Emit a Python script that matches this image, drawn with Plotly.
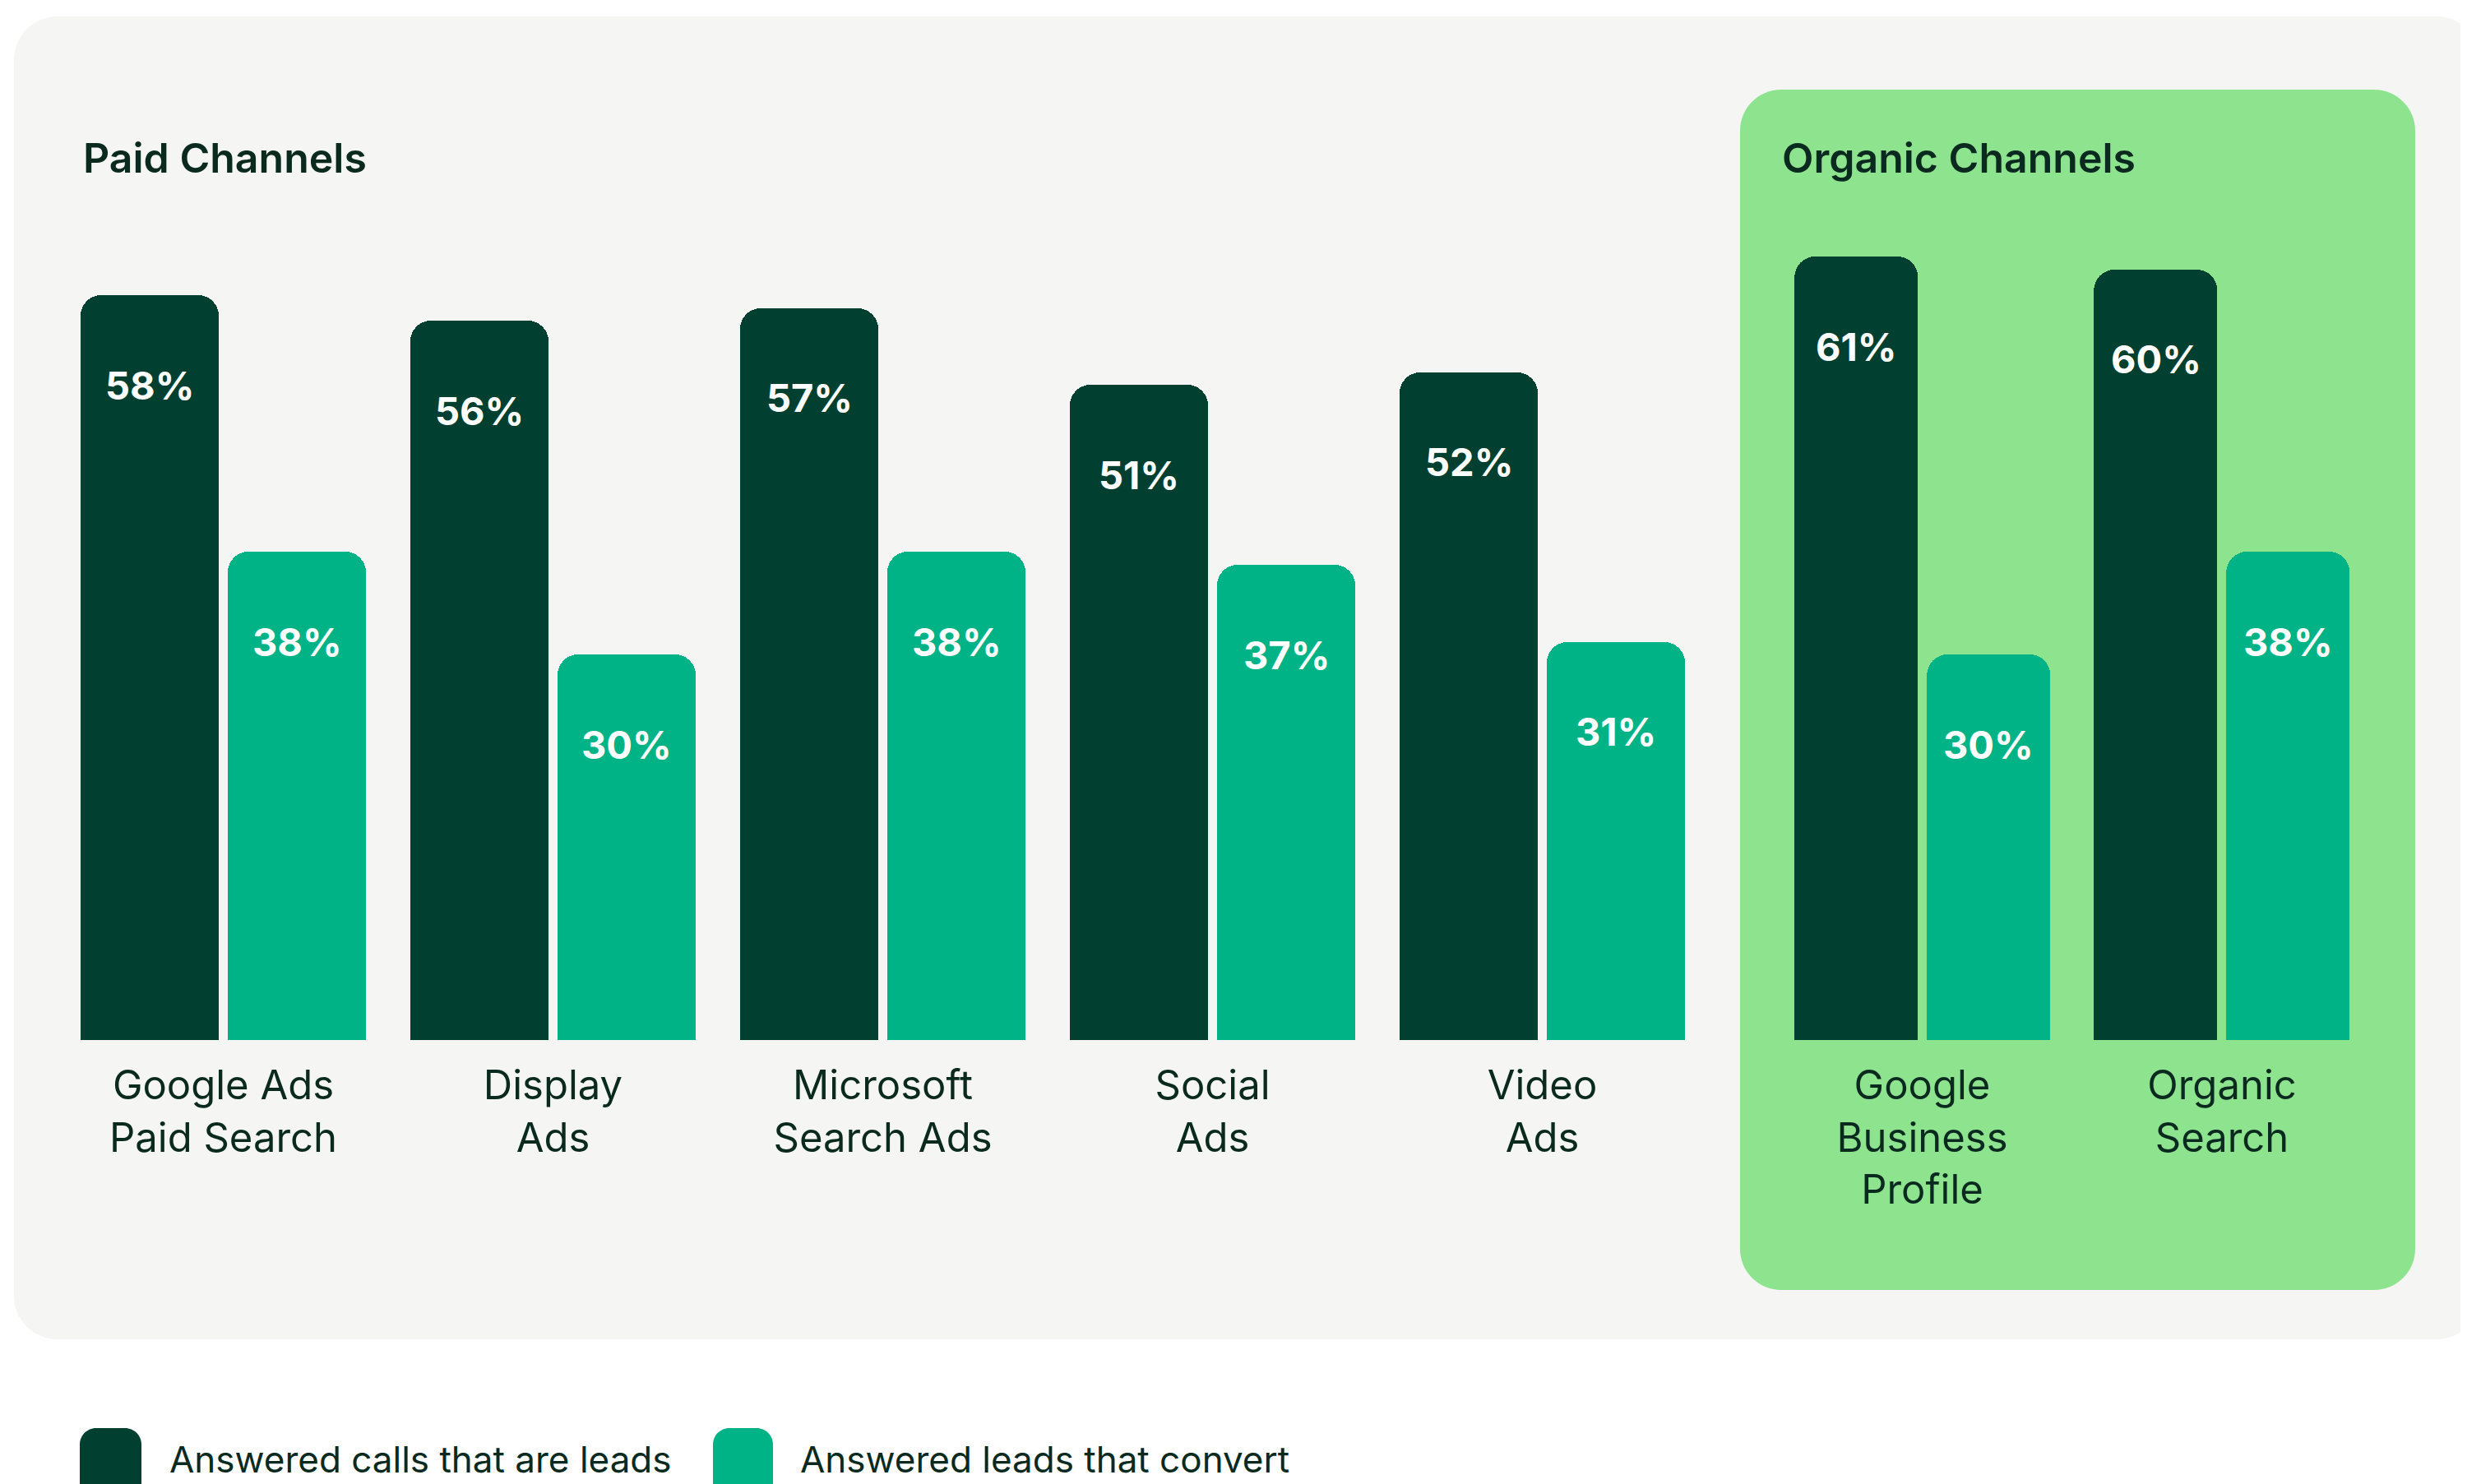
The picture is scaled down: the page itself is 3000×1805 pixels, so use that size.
import plotly.graph_objects as go

W, H = 3000, 1805
PAGE_OFFSET = 8  # default body margin of the html page

# ---------------- data ----------------
paid_categories = ["Google Ads<br>Paid Search", "Display<br>Ads", "Microsoft<br>Search Ads",
                   "Social<br>Ads", "Video<br>Ads"]
paid_leads = [58, 56, 57, 51, 52]
paid_convert = [38, 30, 38, 37, 31]

organic_categories = ["Google<br>Business<br>Profile", "Organic<br>Search"]
organic_leads = [61, 60]
organic_convert = [30, 38]

series_names = ["Answered calls that are leads", "Answered leads that convert"]
group_titles = ["Paid Channels", "Organic Channels"]

# ---------------- style ----------------
DARK = "#013F30"
TEAL = "#00B386"
PANEL = "#F5F5F3"
GREEN = "#8EE38E"
TEXT = "#0B2A1F"
FONT = "Inter"


def px(x):
    return (x - PAGE_OFFSET) / W


def py(y):
    return 1 - (y - PAGE_OFFSET) / H


def rrect(x0, y0, x1, y1, r):
    k = 0.5523 * r

    def P(x, y):
        return f"{px(x):.6f},{py(y):.6f}"

    s = f"M {P(x0 + r, y0)} L {P(x1 - r, y0)} "
    s += f"C {P(x1 - r + k, y0)} {P(x1, y0 + r - k)} {P(x1, y0 + r)} "
    s += f"L {P(x1, y1 - r)} "
    s += f"C {P(x1, y1 - r + k)} {P(x1 - r + k, y1)} {P(x1 - r, y1)} "
    s += f"L {P(x0 + r, y1)} "
    s += f"C {P(x0 + r - k, y1)} {P(x0, y1 - r + k)} {P(x0, y1 - r)} "
    s += f"L {P(x0, y0 + r)} "
    s += f"C {P(x0, y0 + r - k)} {P(x0 + r - k, y0)} {P(x0 + r, y0)} Z"
    return s


# axis geometry (pixels)
BASE_PX = 1265          # y = 0
PX_PER_UNIT = 15.62
TOP_PX = 109
y_max = (BASE_PX - TOP_PX) / PX_PER_UNIT

paid_c0, paid_pitch = 271.5, 401.0
org_c0, org_pitch = 2337.5, 364.5

paid_bw = 168 / paid_pitch
paid_off_dark = -173.5 / paid_pitch
paid_off_teal = 5.5 / paid_pitch
org_bw = 150 / org_pitch
org_off_dark = -155.5 / org_pitch
org_off_teal = 5.5 / org_pitch

fig = go.Figure()

paid_x = list(range(len(paid_categories)))
org_x = list(range(len(organic_categories)))

fig.add_trace(go.Bar(x=paid_x, y=paid_leads, name=series_names[0], xaxis="x", yaxis="y",
                     width=paid_bw, offset=paid_off_dark,
                     marker=dict(color=DARK, cornerradius=25, line_width=0)))
fig.add_trace(go.Bar(x=paid_x, y=paid_convert, name=series_names[1], xaxis="x", yaxis="y",
                     width=paid_bw, offset=paid_off_teal,
                     marker=dict(color=TEAL, cornerradius=25, line_width=0)))
fig.add_trace(go.Bar(x=org_x, y=organic_leads, name=series_names[0], xaxis="x2", yaxis="y",
                     width=org_bw, offset=org_off_dark, showlegend=False,
                     marker=dict(color=DARK, cornerradius=25, line_width=0)))
fig.add_trace(go.Bar(x=org_x, y=organic_convert, name=series_names[1], xaxis="x2", yaxis="y",
                     width=org_bw, offset=org_off_teal, showlegend=False,
                     marker=dict(color=TEAL, cornerradius=25, line_width=0)))

annotations = []
label_font = dict(family=FONT, size=47, color="white", weight=700)


def add_value_labels(xs, vals, off, bw, xref):
    for x, v in zip(xs, vals):
        annotations.append(dict(x=x + off + bw / 2, y=v, xref=xref, yref="y",
                                text=f"{v}%", showarrow=False, yanchor="middle",
                                xanchor="center", yshift=-109, font=label_font))


add_value_labels(paid_x, paid_leads, paid_off_dark, paid_bw, "x")
add_value_labels(paid_x, paid_convert, paid_off_teal, paid_bw, "x")
add_value_labels(org_x, organic_leads, org_off_dark, org_bw, "x2")
add_value_labels(org_x, organic_convert, org_off_teal, org_bw, "x2")

# group titles
title_font = dict(family=FONT, size=50, color=TEXT, weight=600)
annotations.append(dict(x=px(99), y=py(192), xref="paper", yref="paper", text=group_titles[0],
                        showarrow=False, xanchor="left", yanchor="middle", font=title_font))
annotations.append(dict(x=px(2165), y=py(192), xref="paper", yref="paper", text=group_titles[1],
                        showarrow=False, xanchor="left", yanchor="middle", font=title_font))

# custom legend
legend_font = dict(family=FONT, size=44, color=TEXT)
annotations.append(dict(x=px(204), y=py(1775), xref="paper", yref="paper", text=series_names[0],
                        showarrow=False, xanchor="left", yanchor="middle", font=legend_font))
annotations.append(dict(x=px(971), y=py(1775), xref="paper", yref="paper", text=series_names[1],
                        showarrow=False, xanchor="left", yanchor="middle", font=legend_font))

shapes = [
    dict(type="path", path=rrect(17, 20, 3016, 1629, 53), xref="paper", yref="paper",
         fillcolor=PANEL, line_width=0, layer="below"),
    dict(type="path", path=rrect(2116, 109, 2937, 1569, 50), xref="paper", yref="paper",
         fillcolor=GREEN, line_width=0, layer="below"),
    dict(type="path", path=rrect(97, 1737, 172, 1860, 20), xref="paper", yref="paper",
         fillcolor=DARK, line_width=0, layer="above"),
    dict(type="path", path=rrect(867, 1737, 940, 1860, 20), xref="paper", yref="paper",
         fillcolor=TEAL, line_width=0, layer="above"),
]

tick_font = dict(family=FONT, size=49, color=TEXT)
fig.update_layout(
    width=W, height=H, autosize=False,
    margin=dict(l=0, r=0, t=0, b=0),
    paper_bgcolor="white", plot_bgcolor="rgba(0,0,0,0)",
    showlegend=False,
    font=dict(family=FONT, color=TEXT),
    xaxis=dict(domain=[px(paid_c0 - paid_pitch / 2), px(paid_c0 + paid_pitch * 4.5)],
               range=[-0.5, len(paid_categories) - 0.5], anchor="y",
               tickmode="array", tickvals=paid_x, ticktext=paid_categories,
               tickfont=tick_font, showgrid=False, zeroline=False, showline=False,
               ticks="", ticklabelstandoff=22, fixedrange=True),
    xaxis2=dict(domain=[px(org_c0 - org_pitch / 2), px(org_c0 + org_pitch * 1.5)],
                range=[-0.5, len(organic_categories) - 0.5], anchor="y",
                tickmode="array", tickvals=org_x, ticktext=organic_categories,
                tickfont=tick_font, showgrid=False, zeroline=False, showline=False,
                ticks="", ticklabelstandoff=22, fixedrange=True),
    yaxis=dict(domain=[py(BASE_PX), py(TOP_PX)], range=[0, y_max],
               showgrid=False, zeroline=False, showline=False, showticklabels=False,
               ticks="", fixedrange=True),
    annotations=annotations,
    shapes=shapes,
    bargap=0,
)

fig.write_html("out.html")
